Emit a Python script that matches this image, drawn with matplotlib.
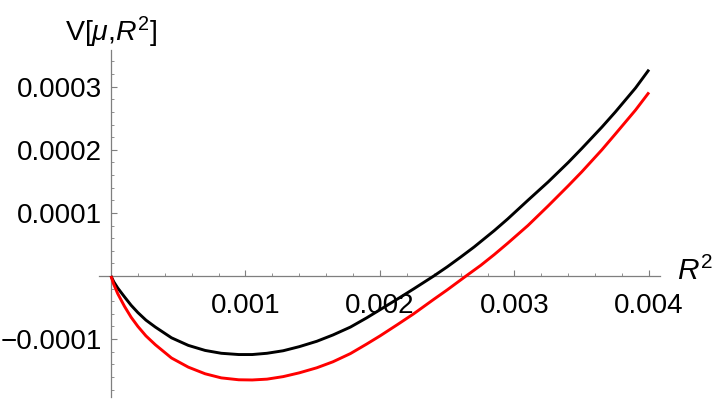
import numpy as np
import matplotlib
matplotlib.use("Agg")
import matplotlib.pyplot as plt
from matplotlib.ticker import MultipleLocator

# ---- data (R^2 in units of 1e-3, V in units of 1e-4) ----
black_r2 = [0.0, 0.02, 0.05, 0.1, 0.15, 0.2, 0.26, 0.33, 0.45, 0.575, 0.7, 0.82,
            0.95, 1.05, 1.16, 1.28, 1.4, 1.53, 1.65, 1.78, 1.9, 2.0, 2.13, 2.25,
            2.4, 2.5, 2.6, 2.7, 2.85, 2.95, 3.1, 3.25, 3.4, 3.5, 3.65, 3.75, 3.9, 4.0]
black_v = [0.0, -0.09, -0.19, -0.33, -0.465, -0.58, -0.70, -0.81, -0.98, -1.10,
           -1.18, -1.225, -1.245, -1.245, -1.225, -1.185, -1.12, -1.035, -0.935,
           -0.81, -0.665, -0.535, -0.365, -0.205, 0.0, 0.145, 0.30, 0.46, 0.72,
           0.905, 1.20, 1.49, 1.80, 2.02, 2.36, 2.60, 2.98, 3.27]

red_r2 = [0.0, 0.02, 0.05, 0.1, 0.15, 0.2, 0.26, 0.33, 0.45, 0.575, 0.7, 0.82,
          0.95, 1.05, 1.16, 1.28, 1.4, 1.53, 1.65, 1.78, 1.9, 2.0, 2.13, 2.25,
          2.4, 2.5, 2.64, 2.75, 2.85, 2.95, 3.1, 3.25, 3.4, 3.5, 3.65, 3.75, 3.9, 4.0]
red_v = [0.0, -0.13, -0.28, -0.48, -0.655, -0.80, -0.95, -1.09, -1.30, -1.445,
         -1.55, -1.615, -1.645, -1.648, -1.635, -1.595, -1.535, -1.455, -1.36,
         -1.23, -1.08, -0.95, -0.77, -0.60, -0.37, -0.22, 0.0, 0.17, 0.34, 0.52,
         0.80, 1.11, 1.43, 1.65, 2.00, 2.25, 2.63, 2.91]

x_ticks = [0.001, 0.002, 0.003, 0.004]
x_tick_labels = ["0.001", "0.002", "0.003", "0.004"]
y_ticks = [-0.0001, 0.0001, 0.0002, 0.0003]
y_tick_labels = ["\u22120.0001", "0.0001", "0.0002", "0.0003"]

plt.rcParams['font.family'] = ['Liberation Sans', 'DejaVu Sans']
plt.rcParams['mathtext.fontset'] = 'custom'
plt.rcParams['mathtext.rm'] = 'Liberation Sans'
plt.rcParams['mathtext.it'] = 'Liberation Sans:italic'

fig = plt.figure(figsize=(7.2, 4.0), dpi=100)
W, H = 720, 400
left_px, right_px, top_px, bottom_px = 99, 660, 50, 397
ax = fig.add_axes([left_px / W, 1 - bottom_px / H, (right_px - left_px) / W,
                   (bottom_px - top_px) / H])

xb = np.array(black_r2) * 1e-3
yb = np.array(black_v) * 1e-4
xr = np.array(red_r2) * 1e-3
yr = np.array(red_v) * 1e-4

ax.plot(xb, yb, color='black', lw=2.1, solid_capstyle='butt',
        solid_joinstyle='round', zorder=3)
ax.plot(xr, yr, color='#ff0000', lw=2.1, solid_capstyle='butt',
        solid_joinstyle='round', zorder=3)

ax.set_xlim(-0.0892e-3, 4.082e-3)
ax.set_ylim(-1.918e-4, 3.582e-4)

axis_col = '#7f7f7f'
for s in ['top', 'right']:
    ax.spines[s].set_visible(False)
ax.spines['left'].set_position(('data', 0))
ax.spines['bottom'].set_position(('data', 0))
for s in ['left', 'bottom']:
    ax.spines[s].set_color(axis_col)
    ax.spines[s].set_linewidth(0.9)

ax.set_xticks(x_ticks)
ax.set_xticklabels(x_tick_labels)
ax.set_yticks(y_ticks)
ax.set_yticklabels(y_tick_labels)
ax.xaxis.set_minor_locator(MultipleLocator(0.0002))
ax.yaxis.set_minor_locator(MultipleLocator(0.00002))

ax.tick_params(axis='both', which='major', direction='in', length=4.5, width=0.8,
               color=axis_col, labelsize=20, labelcolor='black')
ax.tick_params(axis='both', which='minor', direction='in', length=2.5, width=0.6,
               color=axis_col)
ax.tick_params(axis='x', which='major', pad=12)
ax.tick_params(axis='y', which='major', pad=6.5)

ax.patch.set_visible(False)

# axis labels
ax.text(0.0, 3.582e-4, r'V[$\mu$,$R^2$]', transform=ax.transData,
        ha='center', va='bottom', fontsize=20.5, color='black')
ax.annotate(r'$R^2$', xy=(1.0, 0.0), xycoords=('axes fraction', 'data'),
            xytext=(12, 3), textcoords='offset points', ha='left', va='center',
            fontsize=21.5, color='black')

fig.savefig('out.png', dpi=100)
